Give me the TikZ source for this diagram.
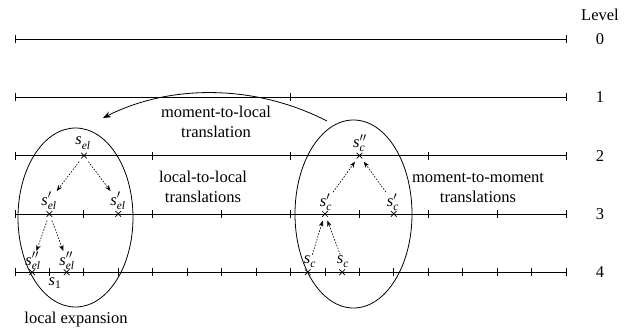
\documentclass[tikz,border=0pt]{standalone}
\usepackage{amsmath}
\usepackage{fontspec}
\setmainfont{Liberation Serif}
\usetikzlibrary{shapes.misc,arrows.meta}
\newcommand\sv[2]{$\textit{s}^{#1}_{\textit{#2}}$}
\begin{document}
\begin{tikzpicture}[x=1pt,y=-1pt,
  axis/.style={line width=0.8pt},
  xmark/.style={cross out,draw,minimum size=5pt,inner sep=0pt,line width=0.7pt},
  lab/.style={font=\fontsize{16.5}{20}\selectfont,align=center,inner sep=0pt},
  var/.style={font=\fontsize{16.5}{20}\selectfont,inner sep=1pt},
  dotarrow/.style={dash pattern=on 1.6pt off 1.4pt,line width=0.6pt,-{Stealth[length=6pt,width=4.5pt]}},
]
\useasboundingbox (0,0) rectangle (635,333);
% level lines
\foreach \l/\n in {0/1,1/2,2/4,3/8,4/16} {
  \pgfmathsetmacro\yy{39+58.3*\l}
  \draw[axis] (15,\yy) -- (566,\yy);
  \foreach \k in {0,...,\n} { \draw[axis] ({15+551*\k/\n},{\yy-4}) -- ++(0,8); }
}
% level labels
\node[lab] (lv) at (600,15) {Level};
\node[lab] (l0) at (600,39) {0};
\node[lab] (l1) at (600,97.3) {1};
\node[lab] (l2) at (600,155.6) {2};
\node[lab] (l3) at (600,213.9) {3};
\node[lab] (l4) at (600,272.2) {4};
% left tree crosses
\node[xmark] (e2) at (83.9,155.6) {};
\node[xmark] (e3a) at (49.4,213.9) {};
\node[xmark] (e3b) at (118.3,213.9) {};
\node[xmark] (e4a) at (32.2,272.2) {};
\node[xmark] (e4b) at (66.7,272.2) {};
\node[var] (le2) at (83,143) {\sv{}{el}};
\node[var] (le3a) at (49,201) {\sv{\prime}{el}};
\node[var] (le3b) at (118,201) {\sv{\prime}{el}};
\node[var] (le4a) at (33,261) {\sv{\prime\prime}{el}};
\node[var] (le4b) at (67,261) {\sv{\prime\prime}{el}};
\node[var] (s1) at (55,283) {$\textit{s}_{\textup{1}}$};
\draw[dotarrow,shorten <=4pt] (e2) -- (le3a);
\draw[dotarrow,shorten <=4pt] (e2) -- (le3b);
\draw[dotarrow,shorten <=4pt] (e3a) -- (le4a);
\draw[dotarrow,shorten <=4pt] (e3a) -- (le4b);
% right tree crosses
\node[xmark] (c2) at (359.4,155.6) {};
\node[xmark] (c3a) at (324.9,213.9) {};
\node[xmark] (c3b) at (393.8,213.9) {};
\node[xmark] (c4a) at (307.7,272.2) {};
\node[xmark] (c4b) at (342.1,272.2) {};
\node[var] (lc2) at (360,143) {\sv{\prime\prime}{c}};
\node[var] (lc3a) at (326,202) {\sv{\prime}{c}};
\node[var] (lc3b) at (393,202) {\sv{\prime}{c}};
\node[var] (lc4a) at (310,262) {\sv{}{c}};
\node[var] (lc4b) at (343,262) {\sv{}{c}};
\draw[dotarrow,shorten >=4pt] (lc4a) -- (c3a);
\draw[dotarrow,shorten >=4pt] (lc4b) -- (c3a);
\draw[dotarrow,shorten >=4pt] (lc3a) -- (c2);
\draw[dotarrow,shorten >=4pt] (lc3b) -- (c2);
% ellipses
\draw[line width=0.8pt] (75.5,217.5) ellipse [x radius=57.5pt, y radius=89.5pt];
\draw[line width=0.8pt] (353.5,214) ellipse [x radius=58.5pt, y radius=94pt];
% moment-to-local arrow
\coordinate (mlS) at (327,121);
\coordinate (mlE) at (103,118);
\draw[line width=0.8pt,-{Stealth[length=8pt,width=6pt]}] (mlS) .. controls (255,84) and (170,84) .. (mlE);
% texts
\node[lab] (tml) at (216,122) {moment-to-local\\translation};
\node[lab] (tll) at (203,187) {local-to-local\\translations};
\node[lab] (tmm) at (478,188) {moment-to-moment\\translations};
\node[lab] (tle) at (76,320) {local expansion};
\end{tikzpicture}
\end{document}
